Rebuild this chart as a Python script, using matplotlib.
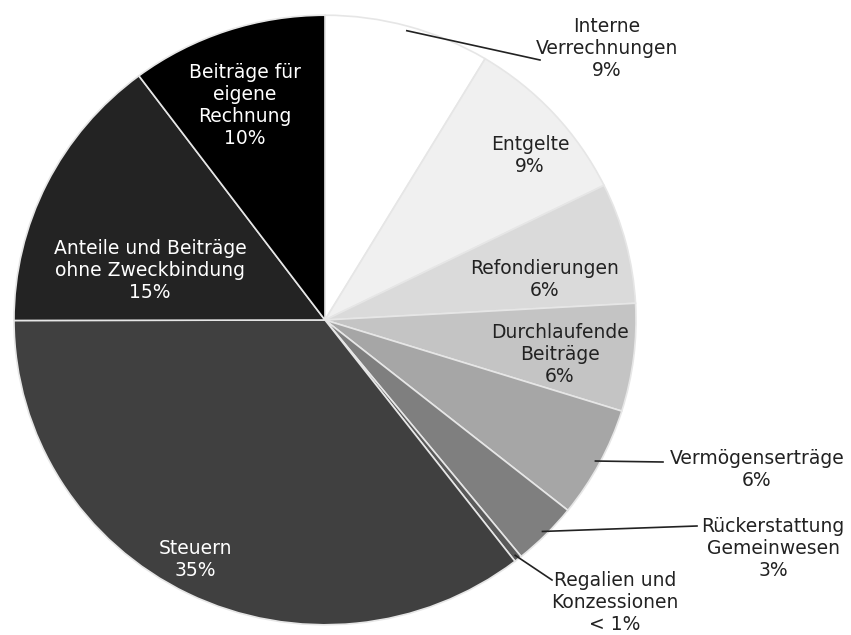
import numpy as np
import matplotlib
matplotlib.use("Agg")
import matplotlib.pyplot as plt

# Revenue shares (percent), clockwise from 12 o'clock
categories = [
    "Interne\nVerrechnungen",
    "Entgelte",
    "Refondierungen",
    "Durchlaufende\nBeiträge",
    "Vermögenserträge",
    "Rückerstattung\nGemeinwesen",
    "Regalien und\nKonzessionen",
    "Steuern",
    "Anteile und Beiträge\nohne Zweckbindung",
    "Beiträge für\neigene\nRechnung",
]
shares = [8.6, 9.1, 6.4, 5.7, 5.9, 3.4, 0.4, 35.4, 14.8, 10.2]
colors = ["#ffffff", "#f0f0f0", "#dadada", "#c4c4c4", "#a6a6a6",
          "#7f7f7f", "#5a5a5a", "#404040", "#232323", "#000000"]
text_colors = ["#222222"] * 7 + ["#ffffff"] * 3

W, H = 851, 635
SQ = 0.98           # slight vertical squash of the pie
fig = plt.figure(figsize=(W / 100, H / 100), dpi=100)
ax = fig.add_axes([0, 0, 1, 1])


def P(x, y):
    """pixel position (from top-left) -> data coordinates"""
    return x, (H - y) / SQ


cx, cy = P(325, 320)
R = 311
wedges, _ = ax.pie(shares, colors=colors, startangle=90, counterclock=False,
                   center=(cx, cy), radius=R, frame=True,
                   wedgeprops=dict(edgecolor="#e6e6e6", linewidth=1.2))
ax.set_xlim(0, W)
ax.set_ylim(0, H / SQ)
ax.set_aspect("auto")
ax.axis("off")


def pct(v):
    return "< 1%" if v < 1 else f"{int(v + 0.5):d}%"


font = dict(family="DejaVu Sans", fontsize=13.5, ha="center", va="center",
            linespacing=1.2)

# labels placed inside their wedge
inside = {1: (530, 155), 2: (545, 280), 3: (560, 355),
          7: (195, 560), 8: (150, 270), 9: (245, 105)}
for i, (x, y) in inside.items():
    ax.text(*P(x, y), f"{categories[i]}\n{pct(shares[i])}",
            color=text_colors[i], **font)

# labels outside with leader lines: (text centre, line end)
outside = {0: ((607, 48), (540, 60)),
           4: ((757, 470), (663, 462)),
           5: ((773, 548), (697, 526)),
           6: ((615, 603), (552, 580))}
for i, (tpos, lend) in outside.items():
    w = wedges[i]
    mid = np.deg2rad((w.theta1 + w.theta2) / 2)
    sx, sy = cx + 0.985 * R * np.cos(mid), cy + 0.985 * R * np.sin(mid)
    ex, ey = P(*lend)
    ax.plot([sx, ex], [sy, ey], color="#222222", lw=1.2)
    ax.text(*P(*tpos), f"{categories[i]}\n{pct(shares[i])}",
            color="#222222", **font)

fig.savefig("out.png", dpi=100, facecolor="white")
